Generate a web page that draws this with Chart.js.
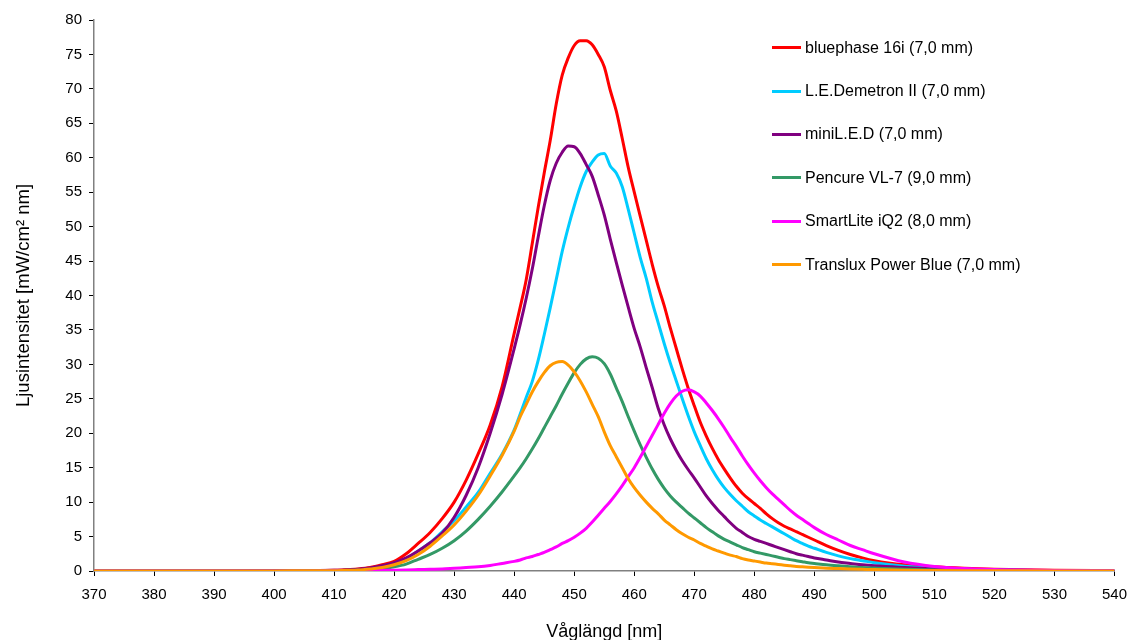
<!DOCTYPE html>
<html>
<head>
<meta charset="utf-8">
<script src="https://cdn.jsdelivr.net/npm/chart.js@4.4.0/dist/chart.umd.min.js"></script>
<style>
  html, body { margin: 0; padding: 0; background: #fff; overflow: hidden; }
  #wrap { position: relative; width: 1127px; height: 640px; overflow: hidden; }
  #chart { position: absolute; left: 0; top: 0; }
  #legend { position: absolute; left: 772px; top: 26px; font-family: "Liberation Sans", Arial, sans-serif; font-size: 16px; color: #000; }
  .item { display: flex; align-items: center; height: 43.4px; white-space: nowrap; }
  .swatch { width: 29px; height: 3px; margin-right: 4px; }
</style>
</head>
<body>
<div id="wrap">
  <canvas id="chart" width="1137" height="650"></canvas>
  <div id="legend"></div>
</div>
<script>
// Våglängder (nm)
const wavelengths = [370, 380, 390, 400, 405,
  410, 412, 414, 416, 418, 420, 422, 424, 426, 428, 430, 432, 434, 436, 438,
  440, 441, 442, 443, 444, 445, 446, 447, 448, 449, 450,
  451, 452, 453, 454, 455, 456, 457, 458, 459, 460,
  461, 462, 463, 464, 465, 466, 467, 468, 469, 470,
  471, 472, 473, 474, 475, 476, 477, 478, 479, 480,
  481, 482, 483, 484, 485, 486, 487, 488, 489, 490,
  492, 494, 496, 498, 500,
  505, 510, 515, 520, 530, 540];

// Ljusintensitet per lampa
const bluephase = [0, 0, 0, 0.02, 0.05,
  0.1, 0.2, 0.3, 0.5, 0.9, 1.4, 2.5, 4, 5.6, 7.6, 10, 13.2, 17, 21.2, 26.8,
  34.5, 38.3, 42.3, 47.5, 52.8, 57.8, 62.5, 67.8, 72, 74.5, 76.3,
  77, 77, 76.4, 75, 73.2, 69.8, 66.8, 62.8, 58.6, 55,
  51.5, 48, 44.5, 41.3, 38.5, 35.3, 32.3, 29.3, 26.5, 24,
  21.6, 19.6, 17.8, 16.2, 14.8, 13.5, 12.3, 11.3, 10.5, 9.8,
  9.1, 8.3, 7.6, 7.0, 6.5, 6.1, 5.7, 5.3, 4.9, 4.5,
  3.7, 3.0, 2.4, 1.9, 1.5,
  0.9, 0.6, 0.4, 0.25, 0.1, 0.05];

const demetron = [0, 0, 0, 0.01, 0.03,
  0.05, 0.1, 0.15, 0.35, 0.6, 1.1, 1.8, 2.9, 4.1, 5.7, 7.3, 9.3, 11.4, 14.2, 17,
  20.5, 22.8, 25.2, 27.5, 30.6, 34.3, 38.2, 42.3, 46.4, 49.9, 53,
  55.8, 58, 59.4, 60.4, 60.6, 58.8, 57.8, 55.8, 52.5, 49,
  45.5, 42.5, 39, 36, 33, 30.2, 27.6, 25, 22.5, 20.2,
  18.2, 16.3, 14.7, 13.3, 12.1, 11.1, 10.2, 9.4, 8.6, 8,
  7.4, 6.9, 6.4, 5.9, 5.4, 4.9, 4.4, 4, 3.6, 3.3,
  2.7, 2.2, 1.8, 1.5, 1.2,
  0.7, 0.4, 0.25, 0.15, 0.05, 0.02];

const miniLed = [0, 0, 0, 0.02, 0.04,
  0.1, 0.15, 0.25, 0.45, 0.75, 1.2, 1.9, 2.9, 4.1, 5.5, 7.8, 11, 15, 20, 25.7,
  32.3, 35.8, 39.6, 43.8, 48.5, 53, 56.7, 59.2, 60.8, 61.7, 61.6,
  60.6, 59, 57.3, 54.6, 51.7, 48.2, 44.8, 41.5, 38.3, 35.2,
  32.5, 29.5, 26.6, 23.6, 21.2, 19.2, 17.5, 16, 14.7, 13.5,
  12.2, 10.9, 9.8, 8.8, 7.9, 7, 6.2, 5.6, 5, 4.6,
  4.3, 4, 3.7, 3.4, 3.1, 2.8, 2.5, 2.3, 2.1, 1.9,
  1.6, 1.3, 1.1, 0.9, 0.75,
  0.5, 0.3, 0.2, 0.15, 0.05, 0.02];

const pencure = [0, 0, 0, 0.01, 0.02,
  0.05, 0.07, 0.1, 0.2, 0.35, 0.6, 1, 1.7, 2.4, 3.3, 4.4, 5.8, 7.5, 9.4, 11.5,
  13.8, 15, 16.3, 17.7, 19.2, 20.8, 22.4, 24, 25.7, 27.3, 28.8,
  30, 30.8, 31.1, 30.9, 30.1, 28.6, 26.6, 24.6, 22.4, 20.3,
  18.3, 16.5, 14.8, 13.3, 12, 10.9, 10, 9.2, 8.4, 7.7,
  7, 6.3, 5.7, 5.1, 4.6, 4.2, 3.8, 3.4, 3.1, 2.8,
  2.6, 2.4, 2.2, 2, 1.8, 1.65, 1.5, 1.35, 1.2, 1.1,
  0.9, 0.75, 0.62, 0.5, 0.42,
  0.25, 0.15, 0.1, 0.07, 0.03, 0.01];

const smartLite = [0, 0, 0, 0, 0.01,
  0.02, 0.03, 0.05, 0.07, 0.1, 0.12, 0.15, 0.2, 0.25, 0.3, 0.4, 0.5, 0.6, 0.8, 1.1,
  1.4, 1.6, 1.9, 2.1, 2.4, 2.7, 3.1, 3.5, 4, 4.4, 4.9,
  5.5, 6.2, 7.1, 8.1, 9.1, 10.1, 11.2, 12.4, 13.7, 15,
  16.5, 18.1, 19.7, 21.3, 22.9, 24.3, 25.4, 26.1, 26.3, 26,
  25.4, 24.4, 23.3, 22.1, 20.8, 19.4, 18.1, 16.7, 15.4, 14.2,
  13.1, 12.1, 11.2, 10.4, 9.6, 8.8, 8.1, 7.5, 6.9, 6.3,
  5.3, 4.5, 3.7, 3.1, 2.5,
  1.3, 0.65, 0.35, 0.2, 0.07, 0.03];

const translux = [0, 0, 0, 0.01, 0.03,
  0.05, 0.1, 0.15, 0.3, 0.5, 0.9, 1.5, 2.4, 3.6, 5.1, 6.7, 8.7, 11, 13.8, 16.8,
  20.3, 22.4, 24.2, 26, 27.5, 28.8, 29.8, 30.3, 30.4, 29.9, 28.9,
  27.6, 26, 24.2, 22.4, 20.2, 18.2, 16.6, 15, 13.4, 12.1,
  11, 10, 9.1, 8.3, 7.4, 6.7, 6, 5.4, 4.9, 4.5,
  4, 3.6, 3.2, 2.9, 2.6, 2.3, 2.1, 1.8, 1.6, 1.45,
  1.3, 1.15, 1.05, 0.95, 0.85, 0.75, 0.65, 0.6, 0.55, 0.5,
  0.4, 0.35, 0.3, 0.25, 0.2,
  0.12, 0.08, 0.05, 0.03, 0.01, 0];

const seriesLabels = ['bluephase 16i (7,0 mm)', 'L.E.Demetron II (7,0 mm)', 'miniL.E.D (7,0 mm)',
  'Pencure VL-7 (9,0 mm)', 'SmartLite iQ2 (8,0 mm)', 'Translux Power Blue (7,0 mm)'];
const seriesValues = [bluephase, demetron, miniLed, pencure, smartLite, translux];
const seriesColors = ['#ff0000', '#00ccff', '#800080', '#339966', '#ff00ff', '#ff9900'];

const familia = '"Liberation Sans", Arial, sans-serif';
const fuenteTicks = { family: familia, size: 15 };

const datasets = seriesValues.map((valores, i) => {
  return {
    label: seriesLabels[i],
    data: wavelengths.map((x, j) => ({ x: x, y: valores[j] })),
    borderColor: seriesColors[i],
    backgroundColor: seriesColors[i],
    borderWidth: 3,
    pointRadius: 0,
    cubicInterpolationMode: 'monotone',
    order: seriesValues.length - 1 - i
  };
});

const ctx = document.getElementById('chart').getContext('2d');
const chart = new Chart(ctx, {
  type: 'line',
  data: { datasets: datasets },
  options: {
    responsive: false,
    animation: false,
    layout: { padding: { top: 20, right: 0, bottom: 0, left: 0 } },
    plugins: { legend: { display: false }, tooltip: { enabled: false } },
    scales: {
      x: {
        type: 'linear', min: 370, max: 540,
        ticks: { stepSize: 10, color: '#000', font: fuenteTicks, padding: 10, maxRotation: 0 },
        grid: { drawOnChartArea: false, tickLength: 5, color: '#000' },
        border: { color: '#808080', width: 1.5 },
        title: { display: true, text: 'Våglängd [nm]', color: '#000', font: { family: familia, size: 18 }, padding: { top: 0, bottom: 7 } },
        afterFit: s => { s.height = 79; }
      },
      y: {
        min: 0, max: 80,
        ticks: { stepSize: 5, color: '#000', font: fuenteTicks, padding: 7 },
        grid: { drawOnChartArea: false, tickLength: 5, color: '#000' },
        border: { color: '#808080', width: 1.5 },
        title: { display: true, text: 'Ljusintensitet [mW/cm² nm]', color: '#000', font: { family: familia, size: 18.5 }, padding: { top: 12.5, bottom: 0 } },
        afterFit: s => { s.width = 94; }
      }
    }
  }
});

// Legend inuti diagrammet
const legend = document.getElementById('legend');
chart.data.datasets.forEach(ds => {
  const item = document.createElement('div');
  item.className = 'item';
  const sw = document.createElement('span');
  sw.className = 'swatch';
  sw.style.background = ds.borderColor;
  const txt = document.createElement('span');
  txt.textContent = ds.label;
  item.appendChild(sw);
  item.appendChild(txt);
  legend.appendChild(item);
});
</script>
</body>
</html>
